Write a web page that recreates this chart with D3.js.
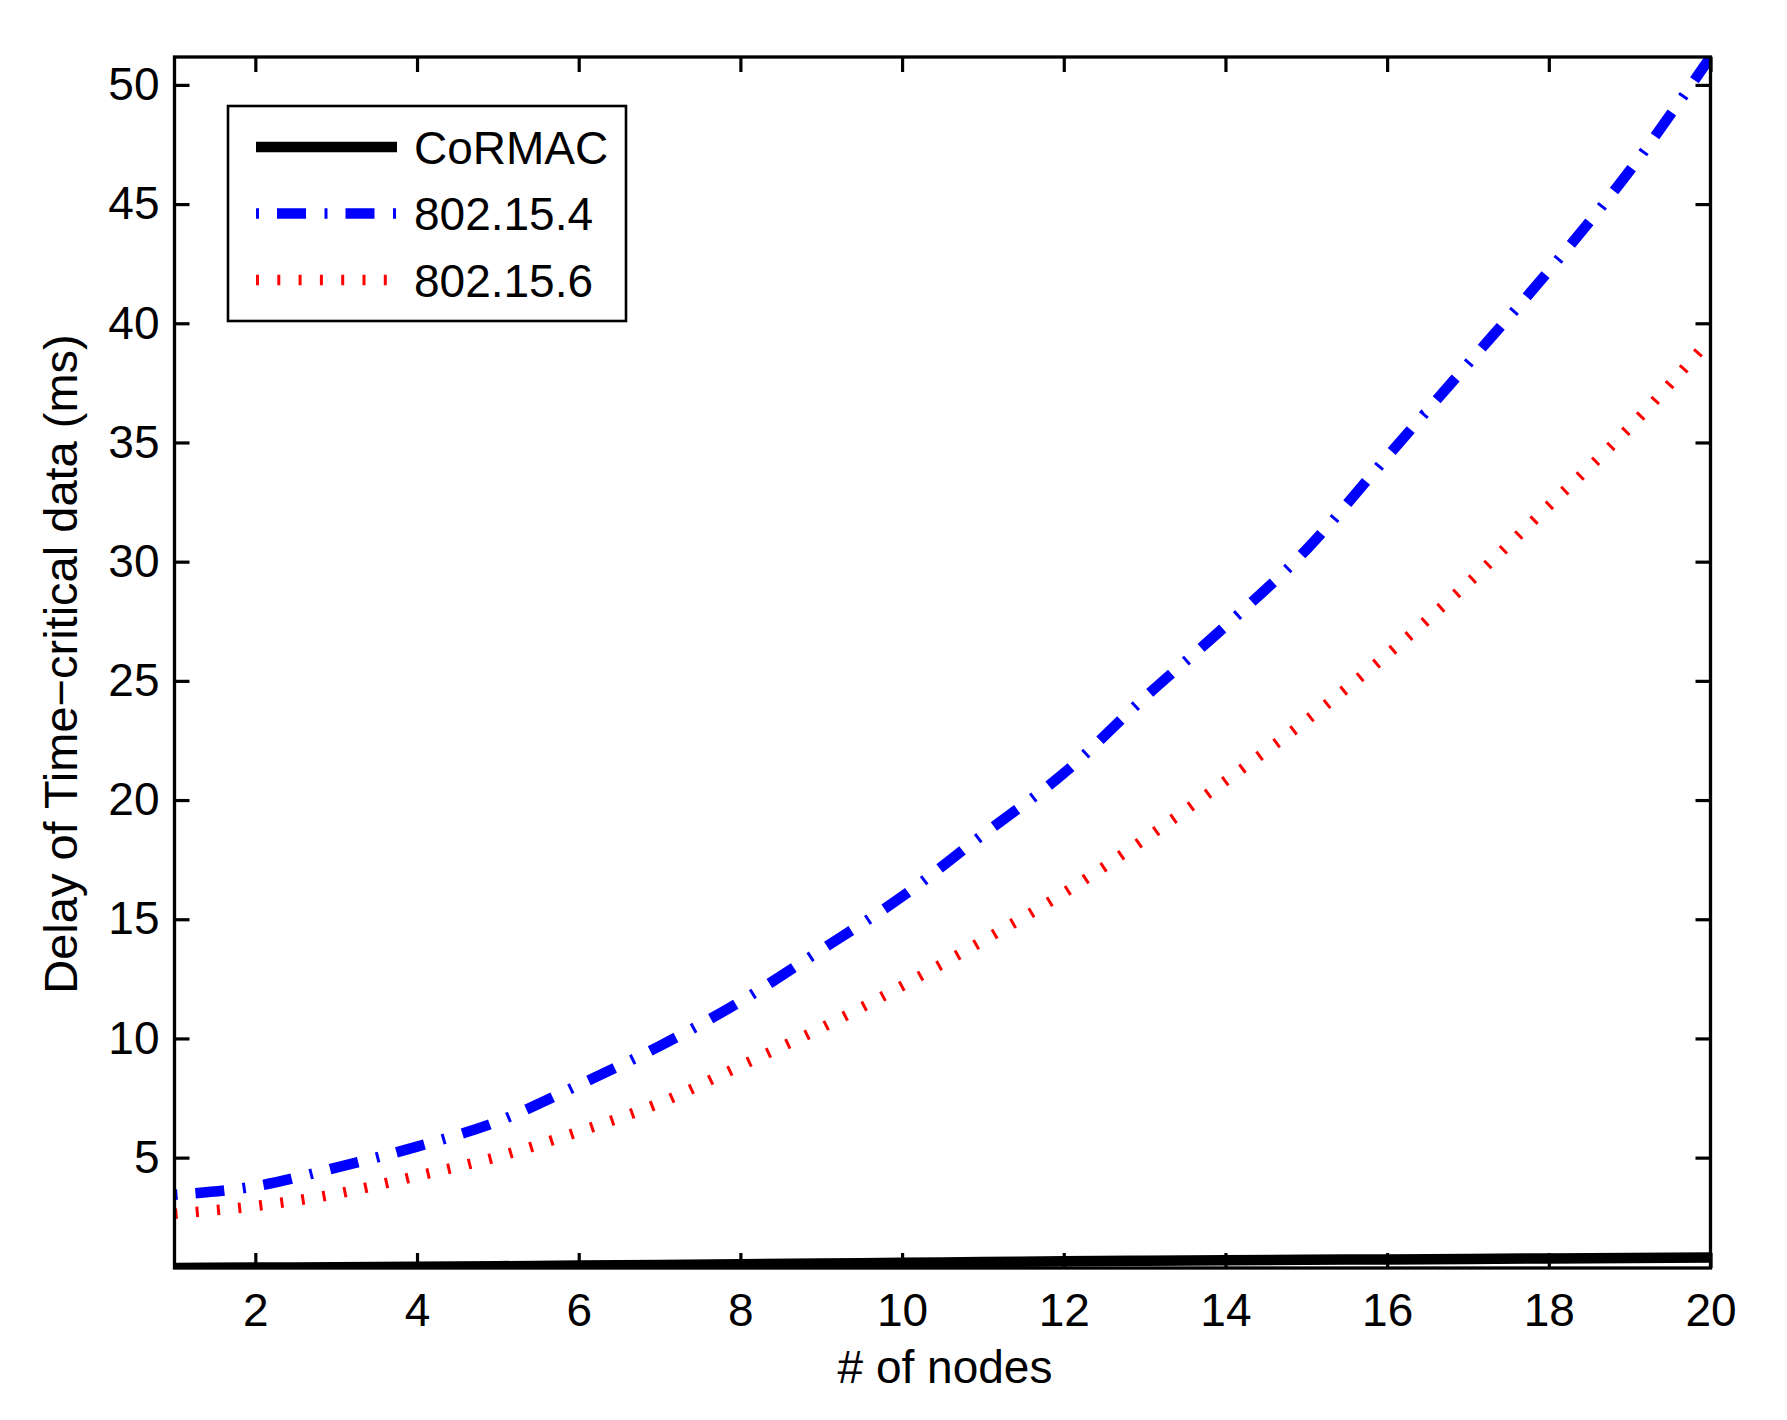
<!DOCTYPE html>
<html>
<head>
<meta charset="utf-8">
<script src="https://cdn.jsdelivr.net/npm/d3@7"></script>
<style>
  html, body { margin: 0; padding: 0; background: #fff; }
  svg text { font-family: "Liberation Sans", Arial, Helvetica, sans-serif; fill: #000; }
</style>
</head>
<body>
<svg id="chart" width="1787" height="1420"></svg>
<script>
// ---- data ----
const nodes = d3.range(1, 21);
const cormac = [0.37, 0.39, 0.40, 0.42, 0.445, 0.47, 0.50, 0.53, 0.56, 0.59,
                0.62, 0.65, 0.675, 0.70, 0.715, 0.73, 0.75, 0.77, 0.79, 0.81];
const ieee4 = [3.44, 3.80, 4.58, 5.46, 6.52, 8.05, 9.68, 11.55, 13.72, 15.95,
               18.55, 21.12, 24.3, 27.3, 30.5, 34.4, 38.3, 42.2, 46.4, 51.17];
const ieee6 = [2.65, 2.97, 3.48, 4.23, 5.04, 6.09, 7.29, 8.85, 10.44, 12.2,
               14.1, 16.1, 18.36, 20.8, 23.34, 26.1, 29.1, 32.34, 35.63, 39.35];
const xTicks = [2, 4, 6, 8, 10, 12, 14, 16, 18, 20];
const yTicks = [5, 10, 15, 20, 25, 30, 35, 40, 45, 50];
const seriesNames = ["CoRMAC", "802.15.4", "802.15.6"];

const series = [
  {name: seriesNames[0], values: cormac, color: "#000", dash: null},
  {name: seriesNames[1], values: ieee4, color: "#0000ff", dash: "3,18,29,18.5"},
  {name: seriesNames[2], values: ieee6, color: "#ff0000", dash: "3,18.3"}
];

const svg = d3.select("#chart");
const mLeft = 174.5, mRight = 1710.5, mTop = 57, mBottom = 1268;
const fontSize = 46;

// axis tight, like matlab
const allVals = cormac.concat(ieee4, ieee6);
const x = d3.scaleLinear().domain([1, 20]).range([mLeft, mRight]);
const y = d3.scaleLinear().domain(d3.extent(allVals)).range([mBottom, mTop]);

svg.append("clipPath").attr("id", "plotclip")
  .append("rect")
  .attr("x", mLeft).attr("y", mTop)
  .attr("width", mRight - mLeft).attr("height", mBottom - mTop);

const line = d3.line()
  .x((d, i) => x(nodes[i]))
  .y(d => y(d))
  .curve(d3.curveMonotoneX);

const plot = svg.append("g").attr("clip-path", "url(#plotclip)");
series.forEach(s => {
  plot.append("path")
    .datum(s.values)
    .attr("d", line)
    .attr("fill", "none")
    .attr("stroke", s.color)
    .attr("stroke-width", 10.5)
    .attr("stroke-linecap", "butt")
    .attr("stroke-dasharray", s.dash);
});

// axes, ticks pointing inwards on all four sides
function styleAxis(g) {
  g.select(".domain").remove();
  g.attr("font-family", null).attr("font-size", null);
  g.selectAll(".tick line").attr("stroke", "#000").attr("stroke-width", 3.2);
  g.selectAll(".tick text").style("font-size", fontSize + "px");
}

svg.append("g")
  .attr("transform", `translate(0,${mBottom})`)
  .call(d3.axisBottom(x).tickValues(xTicks).tickSizeInner(-15).tickSizeOuter(0).tickPadding(25))
  .call(styleAxis);

svg.append("g")
  .attr("transform", `translate(0,${mTop})`)
  .call(d3.axisTop(x).tickValues(xTicks).tickSizeInner(-15).tickSizeOuter(0).tickFormat(""))
  .call(styleAxis);

svg.append("g")
  .attr("transform", `translate(${mLeft},0)`)
  .call(d3.axisLeft(y).tickValues(yTicks).tickSizeInner(-15).tickSizeOuter(0).tickPadding(15))
  .call(styleAxis);

svg.append("g")
  .attr("transform", `translate(${mRight},0)`)
  .call(d3.axisRight(y).tickValues(yTicks).tickSizeInner(-15).tickSizeOuter(0).tickFormat(""))
  .call(styleAxis);

svg.append("rect")
  .attr("x", mLeft).attr("y", mTop)
  .attr("width", mRight - mLeft).attr("height", mBottom - mTop)
  .attr("fill", "none").attr("stroke", "#000").attr("stroke-width", 3.3);

// labels
svg.append("text")
  .attr("x", 945).attr("y", 1383)
  .attr("text-anchor", "middle")
  .style("font-size", fontSize + "px")
  .text("# of nodes");

svg.append("text")
  .attr("transform", "translate(77,664) rotate(-90)")
  .attr("text-anchor", "middle")
  .style("font-size", "47px")
  .text("Delay of Time\u2212critical data (ms)");

// legend
const legend = svg.append("g");
legend.append("rect")
  .attr("x", 228).attr("y", 106)
  .attr("width", 398).attr("height", 215)
  .attr("fill", "#fff").attr("stroke", "#000").attr("stroke-width", 2.6);

const rowY = [147, 213.5, 280];
series.forEach((s, i) => {
  legend.append("line")
    .attr("x1", 256).attr("x2", 397)
    .attr("y1", rowY[i]).attr("y2", rowY[i])
    .attr("stroke", s.color)
    .attr("stroke-width", 10.5)
    .attr("stroke-dasharray", s.dash);
  legend.append("text")
    .attr("x", 414).attr("y", rowY[i] + 16.5)
    .style("font-size", fontSize + "px")
    .text(s.name);
});
</script>
</body>
</html>
